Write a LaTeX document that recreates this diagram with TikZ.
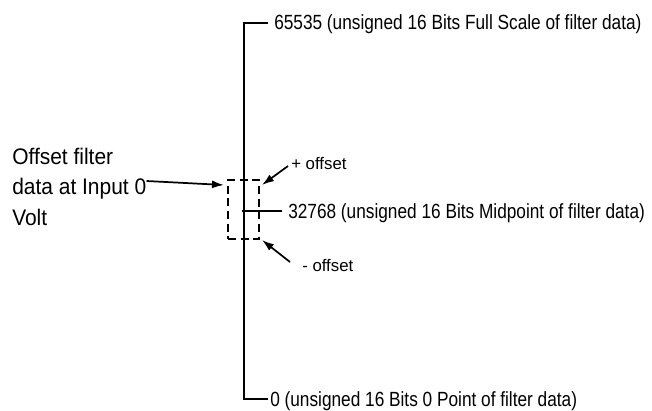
\documentclass[tikz,border=0pt]{standalone}
\usepackage{fontspec}
\setmainfont{Liberation Sans}
\newfontfamily\rightfont{Liberation Sans}[FakeStretch=0.84]
\newfontfamily\leftfont{Liberation Sans}[FakeStretch=0.93]
\usetikzlibrary{arrows.meta,calc}
\tikzset{
  axisline/.style={line width=1.4pt},
  ptr/.style={line width=1.3pt,-{Latex[length=9pt,width=6pt]}},
  rlabel/.style={anchor=base west,inner sep=0pt,font=\rightfont\fontsize{15.4pt}{18pt}\selectfont},
  llabel/.style={anchor=base west,inner sep=0pt,font=\leftfont\fontsize{16.9pt}{20pt}\selectfont},
  olabel/.style={anchor=base west,inner sep=0pt,font=\fontsize{12.6pt}{15pt}\selectfont},
  offboxst/.style={draw,line width=1.2pt,dash pattern=on 6pt off 3.5pt,inner sep=0pt,
    minimum width=23.25pt,minimum height=44.25pt}
}
\begin{document}
\begin{tikzpicture}[x=0.75pt,y=-0.75pt]
\useasboundingbox (0,0) rectangle (652,410);
% scale labels
\node[rlabel] (top) at (274,30) {65535 (unsigned 16 Bits Full Scale of filter data)};
\node[rlabel] (mid) at (288,218.5) {32768 (unsigned 16 Bits Midpoint of filter data)};
\node[rlabel] (bot) at (270,406) {0 (unsigned 16 Bits 0 Point of filter data)};
% scale line
\coordinate (ttick) at (268,23);
\coordinate (ttop) at (244,23);
\coordinate (tbot) at (244,399);
\coordinate (btick) at (268,399);
\draw[axisline] (ttick) -- (ttop) -- (tbot) -- (btick);
\coordinate (mleft) at (242,211);
\coordinate (mright) at (282,211);
\draw[axisline] (mleft) -- (mright);
% offset box
\node[offboxst] (box) at (243.5,209.5) {};
% offset labels
\node[olabel] (plus) at (291,169) {+ offset};
\node[olabel] (minus) at (302,271) {- offset};
\coordinate (ptail) at (288,166);
\coordinate (phead) at (262,185);
\draw[ptr] (ptail) -- (phead);
\coordinate (mtail) at (290,262);
\coordinate (mhead) at (262,240);
\draw[ptr] (mtail) -- (mhead);
% left label
\node[llabel] (l1) at (12,164) {Offset filter};
\node[llabel] (l2) at (12,194) {data at Input 0};
\node[llabel] (l3) at (12,225) {Volt};
\coordinate (lhead) at (224,185);
\draw[ptr] ($(l2.base east)+(0,-13)$) -- (lhead);
\end{tikzpicture}
\end{document}
